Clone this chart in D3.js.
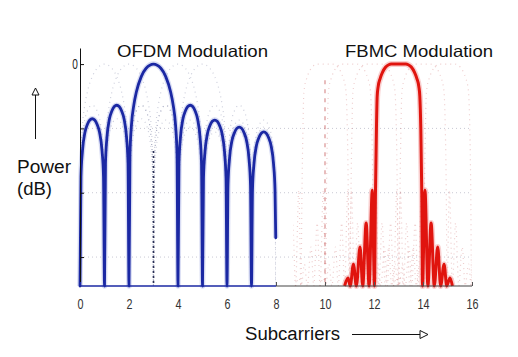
<!DOCTYPE html>
<html><head><meta charset="utf-8">
<script src="https://cdn.jsdelivr.net/npm/d3@7"></script>
<style>body{margin:0;background:#fff}svg{display:block}</style>
</head><body>
<svg id="c" width="518" height="357"></svg>
<script>
// ---- data ----
const xTicks = [0, 2, 4, 6, 8, 10, 12, 14, 16];
const yTicks = [0, -20, -40, -60];
const yTickLabels = ["0", "", "", ""];

// OFDM: spectrum of the highlighted subcarrier (centre 3), in dB
const ofdmX = [
  0,0.04,0.1,0.2,0.3,0.4,0.5,0.6,0.7,0.8,0.9,0.96,
  1,1.04,1.1,1.2,1.3,1.4,1.5,1.6,1.7,1.8,1.9,1.96,
  2,2.04,2.1,2.2,2.3,2.5,2.7,3,3.3,3.5,3.7,3.8,3.9,3.96,
  4,4.04,4.1,4.2,4.3,4.4,4.5,4.6,4.7,4.8,4.9,4.96,
  5,5.04,5.1,5.2,5.3,5.4,5.5,5.6,5.7,5.8,5.9,5.96,
  6,6.04,6.1,6.2,6.3,6.4,6.5,6.6,6.7,6.8,6.9,6.96,
  7,7.04,7.1,7.2,7.3,7.4,7.5,7.6,7.7,7.8,7.9,7.96,7.99];
const ofdmDb = [
  -69,-35,-27,-21.3,-18.8,-17.4,-17,-17.4,-18.8,-21.3,-27,-35,
  -69,-30.8,-22.8,-17.1,-14.6,-13.2,-12.8,-13.2,-14.6,-17.1,-22.8,-30.8,
  -69,-28,-19,-12.6,-8.7,-3.9,-1.3,0,-1.3,-3.9,-8.7,-12.6,-19,-28,
  -69,-30.8,-22.8,-17.1,-14.6,-13.2,-12.8,-13.2,-14.6,-17.1,-22.8,-30.8,
  -69,-35.4,-27.4,-21.7,-19.2,-17.8,-17.4,-17.8,-19.2,-21.7,-27.4,-35.4,
  -69,-37.6,-29.6,-23.9,-21.4,-20,-19.6,-20,-21.4,-23.9,-29.6,-37.6,
  -69,-39.1,-31.1,-25.4,-22.9,-21.5,-21.1,-21.5,-22.9,-25.4,-31.1,-39.1,-54];

// FBMC: spectrum of the highlighted subcarrier (centre 13), in dB
const fbmcX = [
  10.80,10.94,11.03,11.16,11.28,11.43,11.54,11.68,11.80,11.93,
  12.02,12.06,12.10,12.13,12.17,12.25,12.35,12.47,12.60,12.70,
  13.30,13.40,13.53,13.65,13.75,13.83,13.87,13.91,13.95,13.98,
  14.08,14.20,14.33,14.46,14.60,14.72,14.86,14.97,15.10,15.20];
const fbmcDb = [
  -69,-66.5,-69,-62.2,-69,-56.9,-69,-49.4,-69,-39.2,
  -69,-40,-20,-10,-7,-4.5,-2.5,-1,-0.2,0,
  0,-0.2,-1,-2.5,-4.5,-7,-10,-20,-40,-69,
  -39.2,-69,-49.4,-69,-56.9,-69,-62.2,-69,-66.5,-69];

// neighbouring subcarriers (faint dotted), as offsets from the highlighted one
const ofdmNeighbourShifts = [-2, -1, 1, 2];
const fbmcNeighbourShifts = [-3, -2, -1, 1, 2];
const ofdmRange = [0, 8];
const fbmcRange = [8.7, 16];
// where the neighbours' nulls pile up (dotted verticals)
const ofdmNullStack = [{x: 3, top: -27}];
const fbmcNullStack = [{x: 10, top: -5}];

const titles = ["OFDM Modulation", "FBMC Modulation"];
const yLabel = ["Power", "(dB)"];
const xLabel = "Subcarriers";

// ---- drawing ----
const svg = d3.select("#c");
const font = "'Liberation Sans', Arial, sans-serif";
const x = d3.scaleLinear().domain([0, 16]).range([80, 472]);
const y = d3.scaleLinear().domain([-69, 5]).range([286, 48]);

const ofdm = ofdmX.map((v, i) => [v, ofdmDb[i]]);
const fbmc = fbmcX.map((v, i) => [v, fbmcDb[i]]);
const line = d3.line().x(d => x(d[0])).y(d => y(d[1])).curve(d3.curveMonotoneX);

const defs = svg.append("defs");
function clip(id, r) {
  defs.append("clipPath").attr("id", id).append("rect")
    .attr("x", x(r[0])).attr("y", 40).attr("width", x(r[1]) - x(r[0])).attr("height", y(-69) - 40 + 1);
}
clip("clipO", ofdmRange);
clip("clipF", fbmcRange);

// dotted grid
svg.append("g").selectAll("line").data(yTicks.slice(1)).join("line")
  .attr("x1", x(0)).attr("x2", x(16)).attr("y1", d => y(d)).attr("y2", d => y(d))
  .attr("stroke", "#c9c9d4").attr("stroke-width", 1).attr("stroke-dasharray", "1,3");

// neighbours
svg.append("g").attr("clip-path", "url(#clipO)").selectAll("path").data(ofdmNeighbourShifts).join("path")
  .attr("d", s => line(ofdm.map(p => [p[0] + s, p[1]])))
  .attr("fill", "none").attr("stroke", "#5c6290").attr("stroke-opacity", 0.3)
  .attr("stroke-width", 1.2).attr("stroke-dasharray", "1,4");
svg.append("g").attr("clip-path", "url(#clipF)").selectAll("path").data(fbmcNeighbourShifts).join("path")
  .attr("d", s => line(fbmc.map(p => [p[0] + s, p[1]])))
  .attr("fill", "none").attr("stroke", "#c85a5a").attr("stroke-opacity", 0.3)
  .attr("stroke-width", 1.2).attr("stroke-dasharray", "1,4");
svg.append("g").selectAll("line").data(ofdmNullStack).join("line")
  .attr("x1", d => x(d.x)).attr("x2", d => x(d.x)).attr("y1", d => y(d.top)).attr("y2", y(-69))
  .attr("stroke", "#2a2f55").attr("stroke-width", 1.6).attr("stroke-dasharray", "2,3");
svg.append("g").selectAll("line").data(fbmcNullStack).join("line")
  .attr("x1", d => x(d.x)).attr("x2", d => x(d.x)).attr("y1", d => y(d.top)).attr("y2", y(-69))
  .attr("stroke", "#c04a4a").attr("stroke-opacity", 0.6).attr("stroke-width", 1.2).attr("stroke-dasharray", "4,5");

// highlighted curves with soft halo
svg.append("path").attr("d", line(ofdm)).attr("fill", "none")
  .attr("stroke", "#7f8ad6").attr("stroke-opacity", 0.3).attr("stroke-width", 5.5).attr("stroke-linejoin", "round");
svg.append("path").attr("d", line(ofdm)).attr("fill", "none")
  .attr("stroke", "#1b28a3").attr("stroke-width", 2.8).attr("stroke-linejoin", "round").attr("stroke-linecap", "round");
svg.append("path").attr("d", line(fbmc)).attr("fill", "none")
  .attr("stroke", "#f08a8a").attr("stroke-opacity", 0.4).attr("stroke-width", 6).attr("stroke-linejoin", "round");
svg.append("path").attr("d", line(fbmc)).attr("fill", "none")
  .attr("stroke", "#e0140e").attr("stroke-width", 3).attr("stroke-linejoin", "round");

// y axis
const gy = svg.append("g").attr("transform", `translate(${x(0)},0)`)
  .call(d3.axisLeft(y).tickValues(yTicks).tickSize(-4).tickSizeOuter(0).tickPadding(3)
    .tickFormat((d, i) => yTickLabels[i]));
gy.select(".domain").attr("stroke", "#111");
gy.selectAll(".tick line").attr("stroke", "#111");
gy.selectAll(".tick text").attr("font-family", font).attr("font-size", 14).attr("fill", "#222")
  .attr("transform", "scale(0.72,1)");

// x axis
const gx = svg.append("g").attr("transform", `translate(0,${y(-69)})`)
  .call(d3.axisBottom(x).tickValues(xTicks).tickSize(-4).tickSizeOuter(0).tickPadding(12));
gx.select(".domain").remove();
gx.selectAll(".tick line").attr("stroke", d => d < 8 ? "#1b28a3" : "#555");
gx.selectAll(".tick text").attr("font-family", font).attr("font-size", 15).attr("fill", "#333")
  .attr("transform", "scale(0.72,1)");
gx.append("line").attr("x1", x(0)).attr("x2", x(8)).attr("stroke", "#1b28a3").attr("stroke-width", 1.3);
gx.append("line").attr("x1", x(8)).attr("x2", x(16)).attr("stroke", "#444").attr("stroke-width", 1.2);

// titles
svg.append("text").attr("x", 117).attr("y", 56.5).text(titles[0])
  .attr("font-family", font).attr("font-size", 16.5).attr("fill", "#111")
  .attr("textLength", 151).attr("lengthAdjust", "spacingAndGlyphs");
svg.append("text").attr("x", 345).attr("y", 56.5).text(titles[1])
  .attr("font-family", font).attr("font-size", 16.5).attr("fill", "#111")
  .attr("textLength", 148).attr("lengthAdjust", "spacingAndGlyphs");

// y label + arrow
svg.append("text").attr("x", 17).attr("y", 173).text(yLabel[0])
  .attr("font-family", font).attr("font-size", 18).attr("fill", "#111")
  .attr("textLength", 54).attr("lengthAdjust", "spacingAndGlyphs");
svg.append("text").attr("x", 17).attr("y", 195).text(yLabel[1])
  .attr("font-family", font).attr("font-size", 18).attr("fill", "#111")
  .attr("textLength", 35).attr("lengthAdjust", "spacingAndGlyphs");
svg.append("line").attr("x1", 35.5).attr("x2", 35.5).attr("y1", 139).attr("y2", 94).attr("stroke", "#111");
svg.append("path").attr("d", "M35.5,88 L32,95 L39,95 Z").attr("fill", "#fff").attr("stroke", "#111");

// x label + arrow
svg.append("text").attr("x", 245).attr("y", 340).text(xLabel)
  .attr("font-family", font).attr("font-size", 18).attr("fill", "#111")
  .attr("textLength", 95).attr("lengthAdjust", "spacingAndGlyphs");
svg.append("line").attr("x1", 352).attr("x2", 420).attr("y1", 334.5).attr("y2", 334.5).attr("stroke", "#111");
svg.append("path").attr("d", "M428,334.5 L420,330.5 L420,338.5 Z").attr("fill", "#fff").attr("stroke", "#111");
</script>
</body></html>
